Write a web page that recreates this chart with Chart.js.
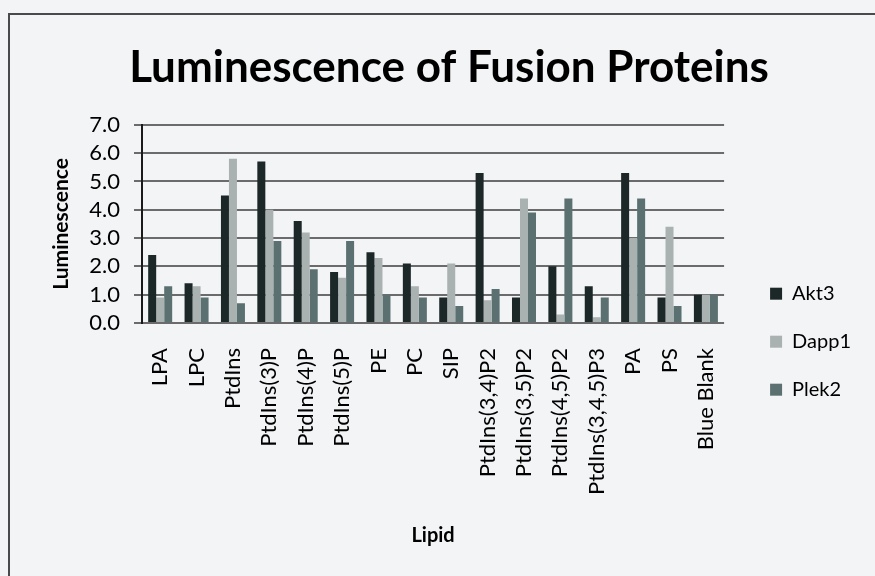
<!DOCTYPE html>
<html>
<head>
<meta charset="utf-8">
<script src="https://cdn.jsdelivr.net/npm/chart.js@4.4.1/dist/chart.umd.min.js"></script>
<style>
  html, body { margin: 0; padding: 0; background: #f3f4f6; }
  #wrap { position: relative; width: 875px; height: 576px; overflow: hidden; }
  #frame { position: absolute; left: 8px; top: 13px; width: 900px; height: 600px;
           border-left: 2px solid #4a4a4a; border-top: 2px solid #4a4a4a; }
  canvas { position: absolute; left: 0; top: 0; }
</style>
</head>
<body>
<div id="wrap">
  <div id="frame"></div>
  <canvas id="lumChart" width="875" height="576"></canvas>
</div>
<script>
// categories (lipids)
const lipids = ['LPA', 'LPC', 'PtdIns', 'PtdIns(3)P', 'PtdIns(4)P', 'PtdIns(5)P', 'PE', 'PC', 'SIP',
  'PtdIns(3,4)P2', 'PtdIns(3,5)P2', 'PtdIns(4,5)P2', 'PtdIns(3,4,5)P3', 'PA', 'PS', 'Blue Blank'];

// luminescence per fusion protein
const akt3  = [2.4, 1.4, 4.5, 5.7, 3.6, 1.8, 2.5, 2.1, 0.9, 5.3, 0.9, 2.0, 1.3, 5.3, 0.9, 1.0];
const dapp1 = [0.9, 1.3, 5.8, 4.0, 3.2, 1.6, 2.3, 1.3, 2.1, 0.8, 4.4, 0.3, 0.2, 3.0, 3.4, 1.0];
const plek2 = [1.3, 0.9, 0.7, 2.9, 1.9, 2.9, 1.0, 0.9, 0.6, 1.2, 3.9, 4.4, 0.9, 4.4, 0.6, 1.0];

const yTicks = [0, 1, 2, 3, 4, 5, 6, 7];

const FONT = "Lato, 'Open Sans', sans-serif";

const ctx = document.getElementById('lumChart').getContext('2d');

new Chart(ctx, {
  type: 'bar',
  data: {
    labels: lipids,
    datasets: [
      { label: 'Akt3', data: akt3, backgroundColor: '#1c2727' },
      { label: 'Dapp1', data: dapp1, backgroundColor: '#a9b1b1' },
      { label: 'Plek2', data: plek2, backgroundColor: '#5b7171' }
    ]
  },
  options: {
    responsive: false,
    animation: false,
    // left/right padding chosen so the title centres where the original sits
    layout: { padding: { left: 37, right: 14, top: 28, bottom: 28 } },
    datasets: {
      bar: { categoryPercentage: 0.66, barPercentage: 1.0 }
    },
    plugins: {
      title: {
        display: true,
        text: 'Luminescence of Fusion Proteins',
        color: '#000',
        font: { family: FONT, size: 44, weight: 'bold' },
        padding: { top: 13, bottom: 31 }
      },
      legend: {
        position: 'right',
        title: {
          display: true,
          text: ' ',
          font: { size: 12 },
          padding: { top: 0, bottom: 93 }
        },
        labels: {
          color: '#000',
          font: { family: FONT, size: 20 },
          boxWidth: 12,
          boxHeight: 12,
          padding: 28
        }
      },
      tooltip: { enabled: false }
    },
    scales: {
      x: {
        grid: { display: false },
        border: { display: false },
        ticks: {
          color: '#000',
          font: { family: FONT, size: 22 },
          minRotation: 90,
          maxRotation: 90,
          autoSkip: false,
          padding: 17
        },
        title: {
          display: true,
          text: 'Lipid',
          color: '#000',
          font: { family: FONT, size: 20, weight: 'bold' },
          padding: { top: 0, bottom: 0 }
        },
        afterFit: (s) => { s.height = 225; }
      },
      y: {
        min: 0,
        max: 7,
        afterBuildTicks: (s) => { s.ticks = yTicks.map(v => ({ value: v })); },
        grid: { color: '#6b6b6b', lineWidth: 2, tickLength: 8, tickColor: '#6b6b6b' },
        border: { color: '#1a1a1a', width: 2 },
        ticks: {
          color: '#000',
          font: { family: FONT, size: 22 },
          padding: 14,
          autoSkip: false,
          callback: (v) => Number(v).toFixed(1)
        },
        title: {
          display: true,
          text: 'Luminescence',
          color: '#000',
          font: { family: FONT, size: 21, weight: 'bold' },
          padding: { top: 12, bottom: 4 }
        },
        afterFit: (s) => { s.width = 105; }
      },
      // empty right-hand axis, only keeps the gap between plot and legend
      gap: {
        position: 'right',
        display: true,
        grid: { display: false },
        border: { display: false },
        ticks: { display: false },
        afterFit: (s) => { s.width = 18; }
      }
    }
  }
});
</script>
</body>
</html>
